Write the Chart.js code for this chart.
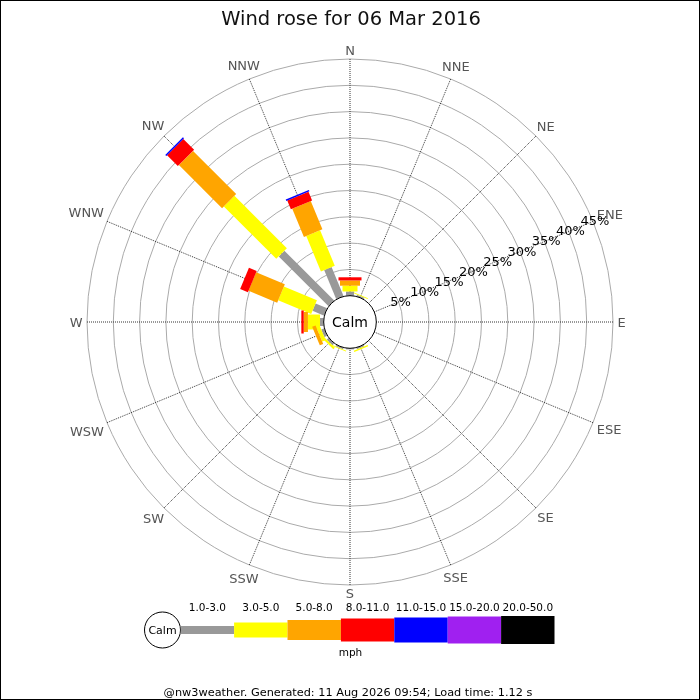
<!DOCTYPE html>
<html>
<head>
<meta charset="utf-8">
<title>Wind rose for 06 Mar 2016</title>
<script src="https://cdn.jsdelivr.net/npm/chart.js@4.4.1/dist/chart.umd.min.js"></script>
<style>
  body { margin: 0; background: #fff; }
  canvas { display: block; }
</style>
</head>
<body>
<canvas id="rose" width="700" height="700"></canvas>
<script>
// Compass points, clockwise from north
const directions = ["N", "NNE", "NE", "ENE", "E", "ESE", "SE", "SSE",
                    "S", "SSW", "SW", "WSW", "W", "WNW", "NW", "NNW"];

// Share of the day (%) per direction, one array per speed band (mph)
const speed1to3   = [0.8, 0.3, 0, 0, 0, 0, 0, 0.3, 0.2, 0.3, 0.5, 0.6, 0.7, 2.4, 13.4, 6.0];
const speed3to5   = [1.1, 0.2, 0, 0, 0, 0, 0, 0.3, 0,   0.2, 0.4, 0.7, 2.3, 6.8, 14.1, 7.3];
const speed5to8   = [1.0, 0,   0, 0, 0, 0, 0, 0,   0,   0,   0,   0.7, 0.8, 5.9, 11.6, 5.8];
const speed8to11  = [0.6, 0,   0, 0, 0, 0, 0, 0,   0,   0,   0,   0,   0.45, 1.6, 2.9, 1.8];
const speed11to15 = [0,   0,   0, 0, 0, 0, 0, 0,   0,   0,   0,   0,   0,   0,   0.3, 0.3];
const speed15to20 = [0,   0,   0, 0, 0, 0, 0, 0,   0,   0,   0,   0,   0,   0,   0,   0];
const speed20to50 = [0,   0,   0, 0, 0, 0, 0, 0,   0,   0,   0,   0,   0,   0,   0,   0];

const bandLabels = ["1.0-3.0", "3.0-5.0", "5.0-8.0", "8.0-11.0", "11.0-15.0", "15.0-20.0", "20.0-50.0"];
const bandValues = [speed1to3, speed3to5, speed5to8, speed8to11, speed11to15, speed15to20, speed20to50];

// Radial tick labels (%)
const radialTicks = [5, 10, 15, 20, 25, 30, 35, 40, 45];

// Styles
const bandColors = ["#999999", "#ffff00", "#ffa500", "#ff0000", "#0000ff", "#a020f0", "#000000"];
const bandWidths = [8, 15, 20, 23, 25, 27, 28];
const FONT = "'DejaVu Sans', sans-serif";

function capText(ctx, text, x, y, size) {
    // centre text on its cap height
    ctx.fillText(text, x, y + size * 0.365);
}

const roseBars = {
    id: "roseBars",
    afterDatasetsDraw(chart) {
        const scale = chart.scales.r;
        const ctx = chart.ctx;
        const base = directions.map(() => 0);

        chart.data.datasets.forEach((ds, k) => {
            ds.data.forEach((v, i) => {
                if (!v) return;
                const a = scale.getIndexAngle(i) - Math.PI / 2;
                const r0 = scale.getDistanceFromCenterForValue(base[i]);
                const r1 = scale.getDistanceFromCenterForValue(base[i] + v);
                base[i] += v;
                const w = bandWidths[k];
                ctx.save();
                ctx.translate(scale.xCenter, scale.yCenter);
                ctx.rotate(a);
                ctx.fillStyle = ds.backgroundColor;
                ctx.fillRect(r0, -w / 2, r1 - r0, w);
                ctx.restore();
            });
        });

        // Calm circle
        const rc = scale.getDistanceFromCenterForValue(0);
        ctx.save();
        ctx.beginPath();
        ctx.arc(scale.xCenter, scale.yCenter, rc, 0, Math.PI * 2);
        ctx.fillStyle = "#fff";
        ctx.fill();
        ctx.strokeStyle = "#000";
        ctx.lineWidth = 1;
        ctx.stroke();
        ctx.fillStyle = "#000";
        ctx.font = "14px " + FONT;
        ctx.textAlign = "center";
        capText(ctx, "Calm", scale.xCenter, scale.yCenter, 14);
        ctx.restore();
    },
    afterDraw(chart) {
        const scale = chart.scales.r;
        const ctx = chart.ctx;
        const R = scale.drawingArea;
        ctx.save();
        ctx.textAlign = "center";

        // Compass labels
        ctx.font = "13px " + FONT;
        ctx.fillStyle = "#555";
        directions.forEach((d, i) => {
            const a = scale.getIndexAngle(i) - Math.PI / 2;
            const hx = ctx.measureText(d).width / 2;
            const hy = 4.2;
            const dist = R + 4.5 + Math.abs(Math.cos(a)) * hx + Math.abs(Math.sin(a)) * hy;
            capText(ctx, d, scale.xCenter + Math.cos(a) * dist, scale.yCenter + Math.sin(a) * dist, 13);
        });

        // Percent labels along ENE
        ctx.fillStyle = "#000";
        radialTicks.forEach(t => {
            const p = scale.getPointPositionForValue(3, t);
            const a = scale.getIndexAngle(3) - Math.PI / 2;
            capText(ctx, t + "%", p.x + Math.cos(a) * 2, p.y + Math.sin(a) * 2, 13);
        });

        // Title
        ctx.font = "19.5px " + FONT;
        ctx.fillStyle = "#111";
        ctx.fillText("Wind rose for 06 Mar 2016", 351, 24.7);

        // Speed legend
        const cy = 630;
        ctx.beginPath();
        ctx.arc(162.5, cy, 18, 0, Math.PI * 2);
        ctx.strokeStyle = "#000";
        ctx.lineWidth = 1;
        ctx.stroke();
        ctx.fillStyle = "#000";
        ctx.font = "11px " + FONT;
        capText(ctx, "Calm", 162.5, cy, 11);
        ctx.font = "10.5px " + FONT;
        const segW = 53.4;
        bandLabels.forEach((lab, k) => {
            const x0 = 180.7 + k * segW;
            ctx.fillStyle = bandColors[k];
            ctx.fillRect(x0, cy - bandWidths[k] / 2, segW, bandWidths[k]);
            ctx.fillStyle = "#000";
            ctx.fillText(lab, x0 + segW / 2, 610.7);
        });
        ctx.fillText("mph", 350.5, 656);

        // Footer
        ctx.font = "11.3px " + FONT;
        ctx.fillText("@nw3weather. Generated: 11 Aug 2026 09:54; Load time: 1.12 s", 348, 695.5);

        // Frame
        ctx.strokeStyle = "#000";
        ctx.strokeRect(0.5, 0.5, 699, 699);
        ctx.restore();
    }
};

const ctx = document.getElementById("rose").getContext("2d");
new Chart(ctx, {
    type: "radar",
    data: {
        labels: directions,
        datasets: bandValues.map((vals, k) => ({
            label: bandLabels[k],
            data: vals,
            backgroundColor: bandColors[k],
            borderWidth: 0,
            showLine: false,
            fill: false,
            pointRadius: 0,
            pointHitRadius: 0
        }))
    },
    options: {
        responsive: false,
        devicePixelRatio: 1,
        animation: false,
        layout: { padding: { left: 87, right: 87, top: 59, bottom: 115 } },
        plugins: {
            legend: { display: false },
            tooltip: { enabled: false },
            title: { display: false }
        },
        scales: {
            r: {
                min: -5,
                max: 45,
                ticks: { stepSize: 5, display: false },
                pointLabels: { display: false },
                grid: {
                    circular: true,
                    color: c => (c.tick && c.tick.value > 0) ? "#aaaaaa" : "rgba(0,0,0,0)",
                    lineWidth: 1
                },
                angleLines: {
                    display: true,
                    color: "#333",
                    lineWidth: 1,
                    borderDash: [1, 1]
                }
            }
        }
    },
    plugins: [roseBars]
});
</script>
</body>
</html>
